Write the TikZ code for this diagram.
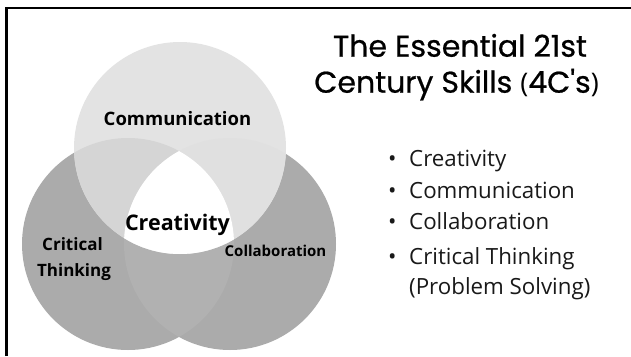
\documentclass[tikz,border=0pt]{standalone}
\usepackage{fontspec}
\newfontfamily\osans{Open Sans}
\newfontfamily\titlefont{Poppins}[FakeBold=0.7]
\definecolor{topgray}{HTML}{E3E3E3}
\definecolor{botgray}{HTML}{ABABAB}
\definecolor{tlgray}{HTML}{D5D5D5}
\definecolor{trgray}{HTML}{E0E0E0}
\definecolor{lrgray}{HTML}{B1B1B1}
\tikzset{
  lbl/.style={inner sep=0pt, anchor=base, font=\osans\bfseries, text=black},
  item/.style={inner sep=0pt, anchor=base west, font=\osans\fontsize{22.3}{26}\selectfont, text=black!90},
  ttl/.style={inner sep=0pt, anchor=base, font=\titlefont\fontsize{30}{36}\selectfont, text=black}
}
\begin{document}
\begin{tikzpicture}[x=1pt,y=-1pt]
\useasboundingbox (0,0) rectangle (631,356);
\fill[white] (0,0) rectangle (631,356);
% circles
\def\cT{(180,148) circle[radius=106]}
\def\cL{(128,244) circle[radius=106]}
\def\cR{(230,244) circle[radius=106]}
\fill[botgray] \cL;
\fill[botgray] \cR;
\begin{scope}\clip \cL; \fill[lrgray] \cR; \end{scope}
\fill[topgray] \cT;
\begin{scope}\clip \cT; \fill[tlgray] \cL; \end{scope}
\begin{scope}\clip \cT; \fill[trgray] \cR; \end{scope}
\begin{scope}\clip \cT; \clip \cL; \fill[white] \cR; \end{scope}
% frame
\coordinate (fb) at (6.5,356);
\coordinate (fc) at (6.5,8);
\coordinate (fr) at (631,8);
\draw[line width=2.6pt, black] (fb) -- (fc) -- (fr);
% diagram labels
\node[lbl, font=\osans\bfseries\fontsize{18.5}{22}\selectfont] (comm) at (177.5,125.5) {Communication};
\node[lbl, font=\osans\bfseries\fontsize{21.5}{26}\selectfont] (crea) at (177.5,230) {Creativity};
\node[lbl, font=\osans\bfseries\fontsize{17}{20}\selectfont] (crit1) at (72.5,250) {Critical};
\node[lbl, font=\osans\bfseries\fontsize{17}{20}\selectfont] (crit2) at (74,276) {Thinking};
\node[lbl, font=\osans\bfseries\fontsize{15}{18}\selectfont] (coll) at (275.5,256) {Collaboration};
% title
\node[ttl] (t1) at (460,56.7) {The Essential 21st};
\node[ttl] (t2) at (456.5,92.7) {Century Skills {\fontsize{27}{30}\selectfont\osans(}4C's{\fontsize{27}{30}\selectfont\osans)}};
% list
\node[item] (b1) at (388,166.7) {•};
\node[item] (i1) at (409,166.7) {Creativity};
\node[item] (b2) at (388,198) {•};
\node[item] (i2) at (409,198) {Communication};
\node[item] (b3) at (388,229) {•};
\node[item] (i3) at (409,229) {Collaboration};
\node[item] (b4) at (388,264) {•};
\node[item] (i4) at (409,264) {Critical Thinking};
\node[item] (i5) at (409,294) {(Problem Solving)};
\end{tikzpicture}
\end{document}
